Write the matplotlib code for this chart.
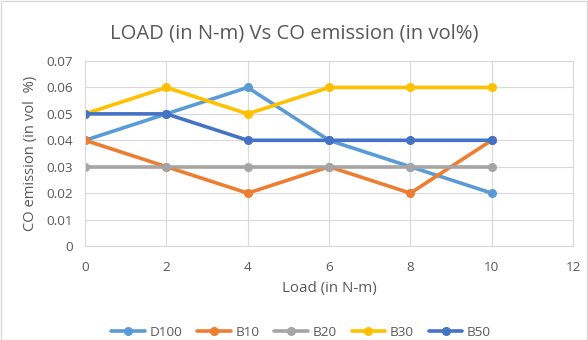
import matplotlib
matplotlib.use("Agg")
import matplotlib.pyplot as plt
from matplotlib.patches import Rectangle

load = [0, 2, 4, 6, 8, 10]
d100 = [0.04, 0.05, 0.06, 0.04, 0.03, 0.02]
b10 = [0.04, 0.03, 0.02, 0.03, 0.02, 0.04]
b20 = [0.03, 0.03, 0.03, 0.03, 0.03, 0.03]
b30 = [0.05, 0.06, 0.05, 0.06, 0.06, 0.06]
b50 = [0.05, 0.05, 0.04, 0.04, 0.04, 0.04]
series = [("D100", d100, "#5B9BD5"), ("B10", b10, "#ED7D31"),
          ("B20", b20, "#A5A5A5"), ("B30", b30, "#FFC000"),
          ("B50", b50, "#4472C4")]
xticks = [0, 2, 4, 6, 8, 10, 12]
yticks = [0, 0.01, 0.02, 0.03, 0.04, 0.05, 0.06, 0.07]
ytick_labels = ["0", "0.01", "0.02", "0.03", "0.04", "0.05", "0.06", "0.07"]

plt.rcParams['font.family'] = ['Open Sans', 'DejaVu Sans']
fig = plt.figure(figsize=(5.88, 3.4), dpi=100)
ax = fig.add_axes([0.1446, 0.2765, 0.83, 0.544])
for name, vals, c in series:
    ax.plot(load, vals, color=c, lw=2.6, marker='o', ms=5.5, label=name,
            solid_capstyle='round')
ax.set_xlim(0, 12)
ax.set_ylim(0, 0.07)
ax.set_xticks(xticks)
ax.set_yticks(yticks)
ax.set_yticklabels(ytick_labels)
ax.grid(True, color="#D9D9D9", lw=0.8)
ax.set_axisbelow(True)
for s in ax.spines.values():
    s.set_color("#D9D9D9")
    s.set_linewidth(0.8)
ax.tick_params(length=0, colors="#595959", labelsize=9.7)
ax.tick_params(axis='x', pad=11)
ax.tick_params(axis='y', pad=9)
ax.set_xlabel("Load (in N-m)", fontsize=10.8, color="#595959", labelpad=5)
ax.set_ylabel("CO emission (in vol  %)", fontsize=10.6, color="#595959", labelpad=6)
fig.text(0.5, 0.9, "LOAD (in N-m) Vs CO emission (in vol%)", ha='center', va='center',
         fontsize=14.6, color="#595959")
leg = fig.legend(loc='center', bbox_to_anchor=(0.512, 0.022), ncol=5, frameon=False,
                 fontsize=9.7, handlelength=2.5, columnspacing=1.1, handletextpad=0.35)
for t in leg.get_texts():
    t.set_color("#595959")
fig.patches.append(Rectangle((0.001, 0.001), 0.998, 0.995, transform=fig.transFigure,
                             fill=False, edgecolor="#D9D9D9", lw=1))
fig.savefig("out.png", dpi=100)
